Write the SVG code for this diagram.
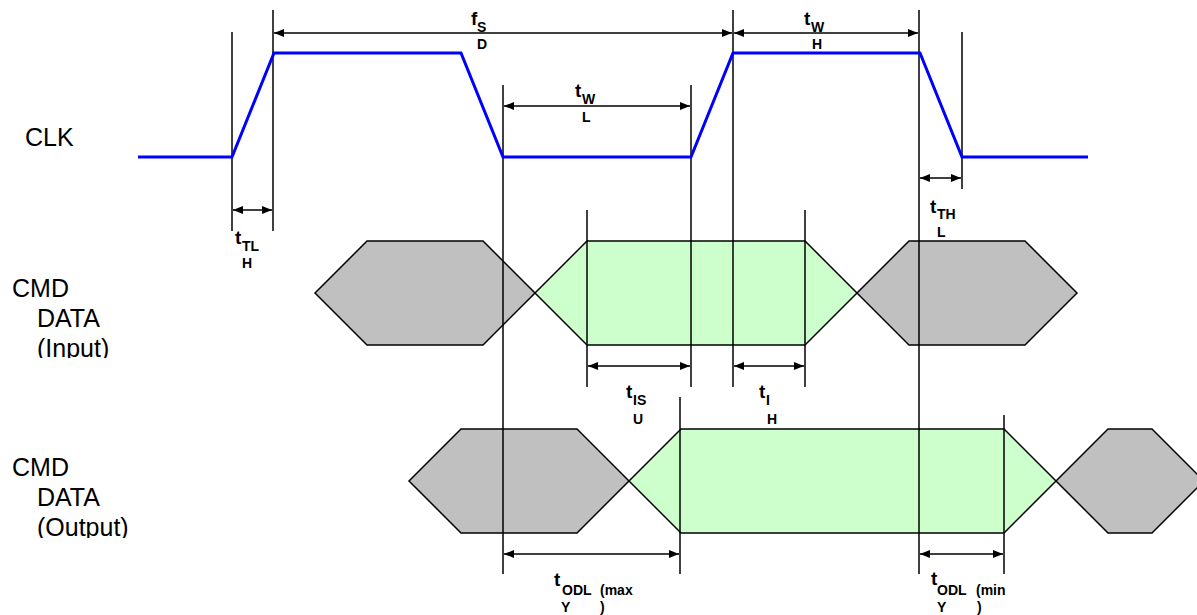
<svg xmlns="http://www.w3.org/2000/svg" width="1197" height="615" viewBox="0 0 1197 615">
<style>
.sig{font-family:"Liberation Sans",Arial,sans-serif;font-size:25px;fill:#000}
.t{font-family:"Liberation Sans",Arial,sans-serif;font-weight:bold;font-size:19px;fill:#000}
.s{font-family:"Liberation Sans",Arial,sans-serif;font-weight:bold;font-size:14px;fill:#000}
.clk{fill:none;stroke:#0000FF;stroke-width:3}
.v{stroke:#000;stroke-width:1.5;fill:none}
.dim{stroke:#000;stroke-width:1.5;fill:none;marker-start:url(#ah);marker-end:url(#ah)}
.gray{fill:#C0C0C0;stroke:#000;stroke-width:1.5}
.green{fill:#CCFFCC;stroke:#000;stroke-width:1.5}
</style>
<defs>
<marker id="ah" viewBox="0 0 10 8" refX="10" refY="4" markerWidth="10" markerHeight="8" markerUnits="userSpaceOnUse" orient="auto-start-reverse">
<path d="M0,0 L10,4 L0,8 z" fill="#000"/>
</marker>
<clipPath id="clipIn"><rect x="0" y="0" width="200" height="358"/></clipPath>
<clipPath id="clipOut"><rect x="0" y="380" width="200" height="158"/></clipPath>
</defs>
<rect width="1197" height="615" fill="#fff"/>

<g id="labels">
<text class="sig" x="25" y="146">CLK</text>
<g clip-path="url(#clipIn)">
<text class="sig" x="12" y="297">CMD</text>
<text class="sig" x="37" y="327">DATA</text>
<text class="sig" x="37" y="357">(Input)</text>
</g>
<g clip-path="url(#clipOut)">
<text class="sig" x="12" y="476">CMD</text>
<text class="sig" x="37" y="506">DATA</text>
<text class="sig" x="37" y="536">(Output)</text>
</g>
</g>

<g id="cmd-input">
<polygon class="gray" points="315,293 367,241 483,241 535,293 483,345 367,345"/>
<polygon class="green" points="535,293 587,241 805,241 857,293 805,345 587,345"/>
<polygon class="gray" points="857,293 909,241 1025,241 1077,293 1025,345 909,345"/>
</g>

<g id="cmd-output">
<polygon class="gray" points="409,481 461,429 577,429 629,481 577,533 461,533"/>
<polygon class="green" points="629,481 681,429 1004,429 1056,481 1004,533 681,533"/>
<polygon class="gray" points="1056,481 1108,429 1152,429 1204,481 1152,533 1108,533"/>
</g>

<g id="connectors">
<line class="v" x1="232" y1="32" x2="232" y2="231"/>
<line class="v" x1="273" y1="10" x2="273" y2="231"/>
<line class="v" x1="503" y1="85" x2="503" y2="574"/>
<line class="v" x1="691" y1="85" x2="691" y2="387"/>
<line class="v" x1="733" y1="10" x2="733" y2="387"/>
<line class="v" x1="919" y1="10" x2="919" y2="574"/>
<line class="v" x1="962" y1="32" x2="962" y2="189"/>
<line class="v" x1="587" y1="210" x2="587" y2="387"/>
<line class="v" x1="805" y1="210" x2="805" y2="387"/>
<line class="v" x1="680" y1="397" x2="680" y2="574"/>
<line class="v" x1="1004" y1="415" x2="1004" y2="574"/>

<line class="dim" x1="233" y1="210" x2="272" y2="210"/>
<line class="dim" x1="274" y1="33" x2="732" y2="33"/>
<line class="dim" x1="734" y1="33" x2="918" y2="33"/>
<line class="dim" x1="504" y1="106" x2="690" y2="106"/>
<line class="dim" x1="920" y1="178" x2="961" y2="178"/>
<line class="dim" x1="588" y1="366" x2="690" y2="366"/>
<line class="dim" x1="734" y1="366" x2="804" y2="366"/>
<line class="dim" x1="504" y1="554" x2="679" y2="554"/>
<line class="dim" x1="920" y1="554" x2="1003" y2="554"/>
</g>

<g id="clk">
<polyline class="clk" points="138,157 232,157 274,53 461,53 503,157 691,157 733,53 920,53 962,157 1088,157"/>
</g>

<g id="dim-labels">
<text class="t" x="471" y="25">f</text><text class="s" x="477" y="32">S</text><text class="s" x="477" y="49">D</text>
<text class="t" x="804" y="25">t</text><text class="s" x="811" y="32">W</text><text class="s" x="812" y="49">H</text>
<text class="t" x="575" y="97">t</text><text class="s" x="582" y="104">W</text><text class="s" x="582" y="122">L</text>
<text class="t" x="235" y="244">t</text><text class="s" x="242" y="251">TL</text><text class="s" x="242" y="268">H</text>
<text class="t" x="930" y="213">t</text><text class="s" x="937" y="219">TH</text><text class="s" x="937" y="237">L</text>
<text class="t" x="626" y="398">t</text><text class="s" x="633" y="405">IS</text><text class="s" x="633" y="424">U</text>
<text class="t" x="759" y="398">t</text><text class="s" x="766" y="405">I</text><text class="s" x="767" y="424">H</text>
<text class="t" x="554" y="586">t</text><text class="s" x="562" y="595">ODL</text><text class="s" x="600" y="595">(max</text><text class="s" x="561" y="612">Y</text><text class="s" x="600" y="612">)</text>
<text class="t" x="931" y="585">t</text><text class="s" x="937" y="595">ODL</text><text class="s" x="976" y="595">(min</text><text class="s" x="937" y="612">Y</text><text class="s" x="977" y="612">)</text>
</g>
</svg>
